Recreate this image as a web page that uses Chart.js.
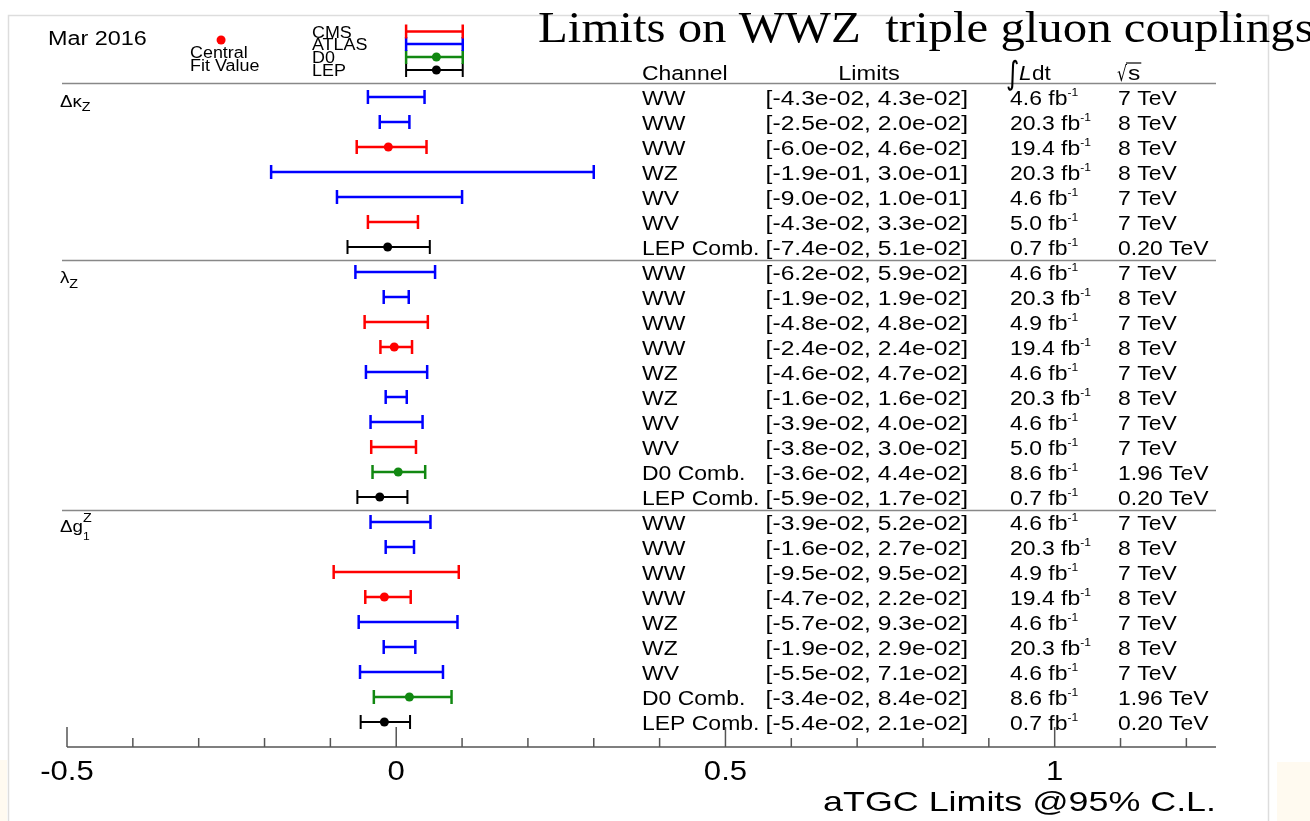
<!DOCTYPE html>
<html>
<head>
<meta charset="utf-8">
<script src="https://cdn.jsdelivr.net/npm/chart.js@4"></script>
<style>
  html, body { margin: 0; padding: 0; background: #fff; }
  #wrap { position: relative; width: 1310px; height: 821px; }
  canvas { position: absolute; left: 0; top: 0; }
</style>
</head>
<body>
<div id="wrap"><canvas id="atgcChart" width="1310" height="821"></canvas></div>
<script>
  // rows, top to bottom
  const channels = ['WW', 'WW', 'WW', 'WZ', 'WV', 'WV', 'LEP Comb.',
    'WW', 'WW', 'WW', 'WW', 'WZ', 'WZ', 'WV', 'WV', 'D0 Comb.', 'LEP Comb.',
    'WW', 'WW', 'WW', 'WW', 'WZ', 'WZ', 'WV', 'D0 Comb.', 'LEP Comb.'];
  const experiments = ['ATLAS', 'ATLAS', 'CMS', 'ATLAS', 'ATLAS', 'CMS', 'LEP',
    'ATLAS', 'ATLAS', 'CMS', 'CMS', 'ATLAS', 'ATLAS', 'ATLAS', 'CMS', 'D0', 'LEP',
    'ATLAS', 'ATLAS', 'CMS', 'CMS', 'ATLAS', 'ATLAS', 'ATLAS', 'D0', 'LEP'];
  const lowerLimits = [-0.043, -0.025, -0.060, -0.19, -0.090, -0.043, -0.074,
    -0.062, -0.019, -0.048, -0.024, -0.046, -0.016, -0.039, -0.038, -0.036, -0.059,
    -0.039, -0.016, -0.095, -0.047, -0.057, -0.019, -0.055, -0.034, -0.054];
  const upperLimits = [0.043, 0.020, 0.046, 0.30, 0.10, 0.033, 0.051,
    0.059, 0.019, 0.048, 0.024, 0.047, 0.016, 0.040, 0.030, 0.044, 0.017,
    0.052, 0.027, 0.095, 0.022, 0.093, 0.029, 0.071, 0.084, 0.021];
  const centralValues = [null, null, -0.012, null, null, null, -0.013,
    null, null, null, -0.003, null, null, null, null, 0.003, -0.025,
    null, null, null, -0.018, null, null, null, 0.020, -0.018];
  const lumis = ['4.6', '20.3', '19.4', '20.3', '4.6', '5.0', '0.7',
    '4.6', '20.3', '4.9', '19.4', '4.6', '20.3', '4.6', '5.0', '8.6', '0.7',
    '4.6', '20.3', '4.9', '19.4', '4.6', '20.3', '4.6', '8.6', '0.7'];
  const energies = ['7 TeV', '8 TeV', '8 TeV', '8 TeV', '7 TeV', '7 TeV', '0.20 TeV',
    '7 TeV', '8 TeV', '7 TeV', '8 TeV', '7 TeV', '8 TeV', '7 TeV', '7 TeV', '1.96 TeV', '0.20 TeV',
    '7 TeV', '8 TeV', '7 TeV', '8 TeV', '7 TeV', '8 TeV', '7 TeV', '1.96 TeV', '0.20 TeV'];
  const sectionStart = [1, 8, 18];          // first row of each coupling block
  const xTickLabels = ['-0.5', '0', '0.5', '1'];
  const xMajorTicks = [-0.5, 0, 0.5, 1];
  const xMinorTicks = [-0.4, -0.3, -0.2, -0.1, 0.1, 0.2, 0.3, 0.4, 0.6, 0.7, 0.8, 0.9, 1.1, 1.2];

  // legend (experiment key)
  const legendNames = ['CMS', 'ATLAS', 'D0', 'LEP'];
  const legendRows = [-1.62, -1.12, -0.6, -0.08];
  const legendLow = [0.015, 0.015, 0.015, 0.015];
  const legendHigh = [0.101, 0.101, 0.101, 0.101];
  const legendCentral = [null, null, 0.061, 0.061];

  const expColor = { CMS: '#ff0000', ATLAS: '#0000ff', D0: '#118811', LEP: '#000000' };

  const fmt = v => v.toExponential(1).replace(/e([+-])(\d)$/, 'e$10$2');

  function bar(lo, hi, y, color) {
    return {
      type: 'line',
      data: [{ x: lo, y: y }, { x: hi, y: y }],
      borderColor: color,
      borderWidth: color === '#000000' ? 2 : 2.5,
      pointStyle: 'line',
      rotation: 90,
      pointRadius: 7,
      pointBorderWidth: color === '#000000' ? 2 : 2.5,
      pointBorderColor: color,
      pointHoverRadius: 7
    };
  }

  const datasets = [];
  channels.forEach((c, i) => datasets.push(bar(lowerLimits[i], upperLimits[i], i + 1, expColor[experiments[i]])));
  legendNames.forEach((n, i) => datasets.push(bar(legendLow[i], legendHigh[i], legendRows[i], expColor[n])));

  const dots = [], dotColors = [];
  centralValues.forEach((v, i) => { if (v !== null) { dots.push({ x: v, y: i + 1 }); dotColors.push(expColor[experiments[i]]); } });
  legendCentral.forEach((v, i) => { if (v !== null) { dots.push({ x: v, y: legendRows[i] }); dotColors.push(expColor[legendNames[i]]); } });
  dots.push({ x: -0.266, y: -1.28 }); dotColors.push('#ff0000');   // "Central Fit Value" key
  datasets.push({
    type: 'scatter', data: dots, pointRadius: 4.5, pointHoverRadius: 4.5,
    pointBackgroundColor: dotColors, pointBorderColor: dotColors, pointBorderWidth: 0
  });

  function txt(ctx, s, x, y, font, align, sx) {
    ctx.save();
    ctx.translate(x, y);
    ctx.scale(sx || 1.2, 1);
    ctx.font = font;
    ctx.textAlign = align || 'left';
    ctx.textBaseline = 'alphabetic';
    ctx.fillText(s, 0, 0);
    const w = ctx.measureText(s).width * (sx || 1.2);
    ctx.restore();
    return w;
  }

  const decor = {
    id: 'decor',
    beforeDraw(chart) {
      const ctx = chart.ctx;
      ctx.save();
      ctx.fillStyle = '#fffaf0';
      ctx.fillRect(0, 760, 7, 61);
      ctx.fillRect(1277, 762, 33, 59);
      ctx.strokeStyle = '#dddddd';
      ctx.lineWidth = 1.5;
      ctx.beginPath();
      ctx.moveTo(8.5, 821); ctx.lineTo(8.5, 15.5); ctx.lineTo(1268.5, 15.5); ctx.lineTo(1268.5, 821);
      ctx.stroke();
      ctx.restore();
    },
    afterDraw(chart) {
      const ctx = chart.ctx, xs = chart.scales.x, ys = chart.scales.y;
      const SANS = '"Liberation Sans", Arial, sans-serif';
      ctx.save();
      ctx.fillStyle = '#000';

      // separators
      ctx.strokeStyle = '#888';
      ctx.lineWidth = 1.5;
      [0.45, 7.5, 17.5].forEach(v => {
        const y = Math.round(ys.getPixelForValue(v)) + 0.5;
        ctx.beginPath(); ctx.moveTo(62, y); ctx.lineTo(xs.right, y); ctx.stroke();
      });

      // x axis
      const ay = ys.getPixelForValue(27);
      ctx.strokeStyle = '#555';
      ctx.lineWidth = 1.5;
      ctx.beginPath(); ctx.moveTo(xs.left, ay); ctx.lineTo(xs.right, ay); ctx.stroke();
      xMajorTicks.forEach(v => {
        const x = xs.getPixelForValue(v);
        ctx.beginPath(); ctx.moveTo(x, ay); ctx.lineTo(x, ay - 20); ctx.stroke();
      });
      xMinorTicks.forEach(v => {
        const x = xs.getPixelForValue(v);
        ctx.beginPath(); ctx.moveTo(x, ay); ctx.lineTo(x, ay - 9); ctx.stroke();
      });
      xMajorTicks.forEach((v, i) => txt(ctx, xTickLabels[i], xs.getPixelForValue(v), ay + 33, '27px ' + SANS, 'center', 1.15));
      txt(ctx, 'aTGC Limits @95% C.L.', xs.right, ay + 64, '28px ' + SANS, 'right', 1.28);

      // table header
      const F = '20.5px ' + SANS;
      const hy = ys.getPixelForValue(0) + 8;
      txt(ctx, 'Channel', 642, hy, F, 'left', 1.12);
      txt(ctx, 'Limits', 869, hy, F, 'center', 1.15);
      txt(ctx, '\u222B', 1006, hy + 4, '32px "DejaVu Sans"', 'left', 0.8);
      txt(ctx, 'L', 1019, hy, 'italic ' + F, 'left', 1.1);
      txt(ctx, 'dt', 1032, hy, F, 'left', 1.1);
      txt(ctx, '\u221A', 1117, hy + 1, '21px "DejaVu Sans"', 'left', 0.75);
      const sw = txt(ctx, 's', 1128, hy, F);
      ctx.lineWidth = 1.2; ctx.strokeStyle = '#000';
      ctx.beginPath(); ctx.moveTo(1126, hy - 17); ctx.lineTo(1128 + sw + 1, hy - 17); ctx.stroke();

      // table rows
      channels.forEach((c, i) => {
        const y = ys.getPixelForValue(i + 1) + 8;
        txt(ctx, c, 642, y, F, 'left', 1.12);
        txt(ctx, '[' + fmt(lowerLimits[i]) + ', ' + fmt(upperLimits[i]) + ']', 968, y, F, 'right', 1.2);
        const w = txt(ctx, lumis[i] + ' fb', 1010, y, F, 'left', 1.12);
        txt(ctx, '-1', 1010 + w, y - 9, '11px ' + SANS, 'left', 1.1);
        txt(ctx, energies[i], 1118, y, F, 'left', 1.12);
      });

      // coupling labels
      const L = '17px ' + SANS;
      let y = ys.getPixelForValue(sectionStart[0]) + 10;
      let w = txt(ctx, '\u0394\u03BA', 60, y, L, 'left', 1.1);
      txt(ctx, 'Z', 60 + w, y + 4, '13px ' + SANS, 'left', 1.1);
      y = ys.getPixelForValue(sectionStart[1]) + 11;
      w = txt(ctx, '\u03BB', 60, y, L, 'left', 1.1);
      txt(ctx, 'Z', 60 + w, y + 5, '13px ' + SANS, 'left', 1.1);
      y = ys.getPixelForValue(sectionStart[2]) + 10;
      w = txt(ctx, '\u0394g', 60, y, L, 'left', 1.1);
      txt(ctx, 'Z', 60 + w, y - 10, '13px ' + SANS, 'left', 1.1);
      txt(ctx, '1', 60 + w, y + 8, '11px ' + SANS, 'left', 1.1);

      // key
      txt(ctx, 'Mar 2016', 48, 45, '19.5px ' + SANS);
      txt(ctx, 'Central', 190, 58, '16px ' + SANS, 'left', 1.12);
      txt(ctx, 'Fit Value', 190, 71, '16px ' + SANS, 'left', 1.12);
      legendNames.forEach((n, i) => txt(ctx, n, 312, ys.getPixelForValue(legendRows[i]) + 6, '16px ' + SANS, 'left', 1.12));

      // title
      txt(ctx, 'Limits on WWZ  triple gluon couplings', 538, 42, '45px "Liberation Serif", serif', 'left', 1.085);
      ctx.restore();
    }
  };

  const ctx = document.getElementById('atgcChart').getContext('2d');
  const atgcChart = new Chart(ctx, {
    type: 'line',
    data: { datasets: datasets },
    options: {
      responsive: false,
      animation: false,
      events: [],
      layout: { padding: { left: 67, right: 94, top: 22, bottom: 74 } },
      plugins: { legend: { display: false }, tooltip: { enabled: false } },
      scales: {
        x: { type: 'linear', min: -0.5, max: 1.245, display: false },
        y: { type: 'linear', min: -2, max: 27, reverse: true, display: false }
      }
    },
    plugins: [decor]
  });
</script>
</body>
</html>
